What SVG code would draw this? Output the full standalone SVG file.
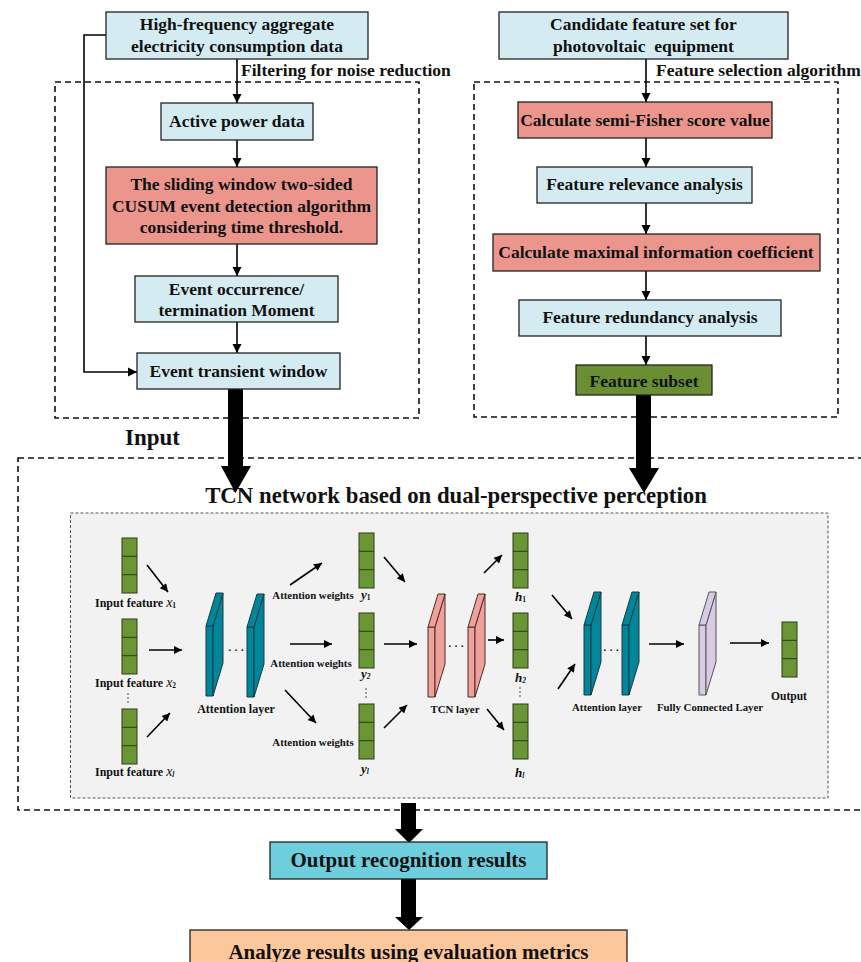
<svg xmlns="http://www.w3.org/2000/svg" xmlns:xlink="http://www.w3.org/1999/xlink" width="861" height="962" viewBox="0 0 861 962">
<style>
text{font-family:"Liberation Serif","Times New Roman",serif;font-weight:bold;fill:#111}
.t16{font-size:17.5px}
.sm{font-size:12px}
.xs{font-size:10.8px}
.box{stroke:#222;stroke-width:1.3}
.lb{fill:#d4ecf1}
.sal{fill:#ec958c}
.grn{fill:#6b8e32}
.dash{fill:none;stroke:#111;stroke-width:1.6;stroke-dasharray:6,4}
.ln{fill:none;stroke:#000;stroke-width:1.6}
.nl{fill:none;stroke:#000;stroke-width:1.6}
.big{fill:#000}
.vec{fill:#6b9636;stroke:#2c3a16;stroke-width:1}
.dot{fill:#333}
</style>
<defs>
<marker id="ah" viewBox="0 0 10 10" refX="10" refY="5" markerWidth="9" markerHeight="10" markerUnits="userSpaceOnUse" orient="auto"><path d="M0,0 L10,5 L0,10 z" fill="#000"/></marker>
<marker id="ah2" viewBox="0 0 10 10" refX="10" refY="5" markerWidth="9" markerHeight="8" markerUnits="userSpaceOnUse" orient="auto"><path d="M0,0 L10,5 L0,10 z" fill="#000"/></marker>
<g id="slab">
<polygon points="0,0 7,0 7,70 0,70"/>
<polygon points="7,0 17,-33 17,37 7,70"/>
<polygon points="0,0 10,-33 17,-33 7,0"/>
</g>
<g id="vec">
<rect x="0" y="0" width="15" height="55"/>
<line x1="0" y1="18.3" x2="15" y2="18.3"/>
<line x1="0" y1="36.7" x2="15" y2="36.7"/>
</g>
<g id="vdots">
<circle cx="0" cy="0" r="0.8"/><circle cx="0" cy="4" r="0.8"/><circle cx="0" cy="8" r="0.8"/>
</g>
</defs>

<!-- dashed frames -->
<rect class="dash" x="55" y="82" width="364" height="336"/>
<rect class="dash" x="474" y="82" width="364" height="335"/>
<rect class="dash" x="18" y="458" width="860" height="352"/>
<rect x="70.5" y="513" width="757.5" height="285" fill="#f2f2f2" stroke="#555" stroke-width="1" stroke-dasharray="3,2"/>

<!-- connectors -->
<g id="connectors">
<line class="ln" x1="237" y1="59" x2="237" y2="103" marker-end="url(#ah)"/>
<line class="ln" x1="237" y1="140" x2="237" y2="167" marker-end="url(#ah)"/>
<line class="ln" x1="237" y1="244" x2="237" y2="276" marker-end="url(#ah)"/>
<line class="ln" x1="237" y1="322" x2="237" y2="353" marker-end="url(#ah)"/>
<polyline class="ln" points="106,35 84,35 84,372 137,372" marker-end="url(#ah)"/>
<line class="ln" x1="646" y1="59" x2="646" y2="102" marker-end="url(#ah)"/>
<line class="ln" x1="646" y1="138" x2="646" y2="167" marker-end="url(#ah)"/>
<line class="ln" x1="646" y1="203" x2="646" y2="234" marker-end="url(#ah)"/>
<line class="ln" x1="646" y1="271" x2="646" y2="300" marker-end="url(#ah)"/>
<line class="ln" x1="646" y1="336" x2="646" y2="365" marker-end="url(#ah)"/>
<polygon class="big" points="228,389 243,389 243,466 251,466 235.5,493 221,466 228,466"/>
<polygon class="big" points="636,395 651,395 651,468 659,468 644,493 629,468 636,468"/>
<polygon class="big" points="401,803 416,803 416,829 423,829 409,843 395,829 401,829"/>
<polygon class="big" points="401,879 416,879 416,917 423,917 409,930 395,917 401,917"/>
<!-- network arrows -->
<line class="nl" x1="147" y1="565" x2="168" y2="592" marker-end="url(#ah2)"/>
<line class="nl" x1="149" y1="650" x2="182" y2="650" marker-end="url(#ah2)"/>
<line class="nl" x1="147" y1="737" x2="170" y2="713" marker-end="url(#ah2)"/>
<line class="nl" x1="290" y1="585" x2="322" y2="563" marker-end="url(#ah2)"/>
<line class="nl" x1="290" y1="644" x2="332" y2="644" marker-end="url(#ah2)"/>
<line class="nl" x1="285" y1="690" x2="316" y2="723" marker-end="url(#ah2)"/>
<line class="nl" x1="384" y1="557" x2="405" y2="582" marker-end="url(#ah2)"/>
<line class="nl" x1="384" y1="644" x2="417" y2="644" marker-end="url(#ah2)"/>
<line class="nl" x1="384" y1="728" x2="407" y2="705" marker-end="url(#ah2)"/>
<line class="nl" x1="484" y1="573" x2="502" y2="555" marker-end="url(#ah2)"/>
<line class="nl" x1="488" y1="640" x2="504" y2="640" marker-end="url(#ah2)"/>
<line class="nl" x1="487" y1="709" x2="504" y2="730" marker-end="url(#ah2)"/>
<line class="nl" x1="552" y1="595" x2="572" y2="619" marker-end="url(#ah2)"/>
<line class="nl" x1="558" y1="689" x2="575" y2="664" marker-end="url(#ah2)"/>
<line class="nl" x1="649" y1="644" x2="684" y2="644" marker-end="url(#ah2)"/>
<line class="nl" x1="730" y1="643" x2="769" y2="643" marker-end="url(#ah2)"/>
</g>

<!-- left flow -->
<g id="n-hf"><rect class="box lb" x="106" y="12" width="262" height="47"/>
<text class="t16" x="237" y="30" text-anchor="middle">High-frequency aggregate</text>
<text class="t16" x="237" y="52" text-anchor="middle">electricity consumption data</text></g>
<text class="t16" x="241" y="76">Filtering for noise reduction</text>
<g id="n-apd"><rect class="box lb" x="161" y="103" width="152" height="37"/>
<text class="t16" x="237" y="127" text-anchor="middle">Active power data</text></g>
<g id="n-cusum"><rect class="box sal" x="106" y="167" width="271" height="77"/>
<text class="t16" x="241.5" y="190" text-anchor="middle">The sliding window two-sided</text>
<text class="t16" x="241.5" y="212" text-anchor="middle">CUSUM event detection algorithm</text>
<text class="t16" x="241.5" y="233" text-anchor="middle">considering time threshold.</text></g>
<g id="n-eom"><rect class="box lb" x="135" y="276" width="203" height="46"/>
<text class="t16" x="236.5" y="295" text-anchor="middle">Event occurrence/</text>
<text class="t16" x="236.5" y="316" text-anchor="middle">termination Moment</text></g>
<g id="n-etw"><rect class="box lb" x="137" y="353" width="203" height="36"/>
<text class="t16" x="238.5" y="377" text-anchor="middle">Event transient window</text></g>
<text x="125" y="445" style="font-size:23px">Input</text>

<!-- right flow -->
<g id="n-cand"><rect class="box lb" x="499" y="12" width="289" height="47"/>
<text class="t16" x="643.5" y="30" text-anchor="middle">Candidate feature set for</text>
<text class="t16" x="643.5" y="52" text-anchor="middle" xml:space="preserve">photovoltaic  equipment</text></g>
<text class="t16" x="656" y="76">Feature selection algorithm</text>
<g id="n-fisher"><rect class="box sal" x="518" y="102" width="254" height="36"/>
<text class="t16" x="645" y="126" text-anchor="middle">Calculate semi-Fisher score value</text></g>
<g id="n-rel"><rect class="box lb" x="537" y="167" width="215" height="36"/>
<text class="t16" x="644.5" y="190" text-anchor="middle">Feature relevance analysis</text></g>
<g id="n-mic"><rect class="box sal" x="493" y="234" width="327" height="37"/>
<text class="t16" x="656" y="258" text-anchor="middle">Calculate maximal information coefficient</text></g>
<g id="n-red"><rect class="box lb" x="519" y="300" width="262" height="36"/>
<text class="t16" x="650" y="323" text-anchor="middle">Feature redundancy analysis</text></g>
<g id="n-sub"><rect class="box grn" x="576" y="365" width="136" height="30"/>
<text class="t16" x="644" y="387" text-anchor="middle">Feature subset</text></g>

<!-- title -->
<text x="456" y="503" text-anchor="middle" style="font-size:22.8px">TCN network based on dual-perspective perception</text>

<!-- network -->
<g id="n-inputs" class="vec">
<use xlink:href="#vec" x="122" y="538"/>
<use xlink:href="#vec" x="122" y="619"/>
<use xlink:href="#vec" x="122" y="709"/>
</g>
<text class="sm" x="95" y="607">Input feature <tspan font-style="italic" font-size="14" font-weight="normal">x</tspan><tspan font-size="7.5" dy="1">1</tspan></text>
<text class="sm" x="95" y="687">Input feature <tspan font-style="italic" font-size="14" font-weight="normal">x</tspan><tspan font-size="7.5" dy="1">2</tspan></text>
<text class="sm" x="95" y="776">Input feature <tspan font-style="italic" font-size="14" font-weight="normal">x</tspan><tspan font-size="7.5" dy="1" font-style="italic">l</tspan></text>
<use class="dot" xlink:href="#vdots" x="128" y="694"/>

<g id="n-att1" fill="#00869b" stroke="#1b3b40" stroke-width="1">
<use xlink:href="#slab" x="206" y="626"/>
<use xlink:href="#slab" x="247" y="627"/>
</g>
<text class="xs" x="236" y="654" text-anchor="middle" font-weight="normal">· · ·</text>
<text class="sm" x="236" y="713" text-anchor="middle">Attention layer</text>

<text class="xs" x="313" y="599" text-anchor="middle">Attention weights</text>
<text class="xs" x="311" y="667" text-anchor="middle">Attention weights</text>
<text class="xs" x="313" y="746" text-anchor="middle">Attention weights</text>

<g id="n-y" class="vec">
<use xlink:href="#vec" x="359" y="533"/>
<use xlink:href="#vec" x="359" y="613"/>
<use xlink:href="#vec" x="359" y="704"/>
</g>
<text x="361" y="599" font-size="13" font-style="italic">y<tspan font-size="7.5" font-style="normal" dy="1">1</tspan></text>
<text x="361" y="678" font-size="13" font-style="italic">y<tspan font-size="7.5" dy="1">2</tspan></text>
<text x="361" y="773" font-size="13" font-style="italic">y<tspan font-size="7.5" dy="1">l</tspan></text>
<use class="dot" xlink:href="#vdots" x="366" y="689"/>

<g id="n-tcn" fill="#f0a19b" stroke="#4a2b29" stroke-width="1">
<use xlink:href="#slab" x="428" y="627"/>
<use xlink:href="#slab" x="468" y="627"/>
</g>
<text class="xs" x="456" y="650" text-anchor="middle" font-weight="normal">· · ·</text>
<text class="xs" x="455" y="713" text-anchor="middle">TCN layer</text>

<g id="n-h" class="vec">
<use xlink:href="#vec" x="513" y="533"/>
<use xlink:href="#vec" x="513" y="613"/>
<use xlink:href="#vec" x="513" y="704"/>
</g>
<text x="515" y="601" font-size="13" font-style="italic">h<tspan font-size="7.5" font-style="normal" dy="1">1</tspan></text>
<text x="515" y="682" font-size="13" font-style="italic">h<tspan font-size="7.5" dy="1">2</tspan></text>
<text x="515" y="777" font-size="13" font-style="italic">h<tspan font-size="7.5" dy="1">l</tspan></text>
<use class="dot" xlink:href="#vdots" x="520" y="688"/>

<g id="n-att2" fill="#00869b" stroke="#1b3b40" stroke-width="1">
<use xlink:href="#slab" x="584" y="625"/>
<use xlink:href="#slab" x="622" y="625"/>
</g>
<text class="xs" x="611" y="654" text-anchor="middle" font-weight="normal">· · ·</text>
<text class="xs" x="607" y="711" text-anchor="middle">Attention layer</text>

<g id="n-fc" fill="#d8cbe4" stroke="#555" stroke-width="1">
<use xlink:href="#slab" x="699" y="625"/>
</g>
<text class="xs" x="710" y="711" text-anchor="middle">Fully Connected Layer</text>

<g id="n-out" class="vec"><use xlink:href="#vec" x="782" y="622"/></g>
<text x="789" y="700" text-anchor="middle" font-size="11.5">Output</text>

<!-- bottom -->
<g id="n-orr"><rect class="box" fill="#6dcedd" x="270" y="842" width="277" height="37"/>
<text x="408.5" y="867" text-anchor="middle" style="font-size:21px">Output recognition results</text></g>
<g id="n-arm"><rect class="box" fill="#fcc79b" x="190" y="930" width="437" height="40"/>
<text x="408.5" y="959" text-anchor="middle" style="font-size:21px">Analyze results using evaluation metrics</text></g>
</svg>
